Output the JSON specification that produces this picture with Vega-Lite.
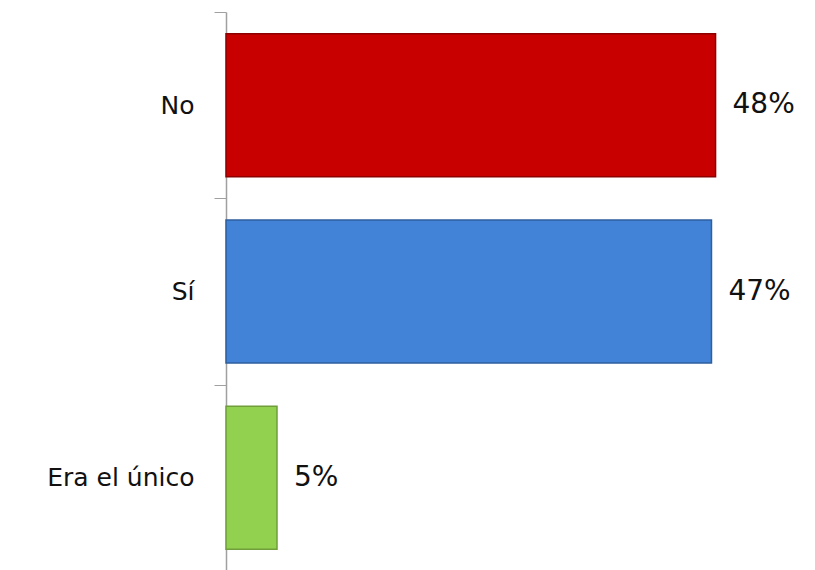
{
  "$schema": "https://vega.github.io/schema/vega-lite/v6.json",
  "width": 589,
  "height": 559,
  "autosize": {"type": "none"},
  "padding": {"left": 226, "top": 12, "right": 0, "bottom": 0},
  "background": "white",
  "config": {"view": {"stroke": null}, "font": "DejaVu Sans"},
  "data": {
    "values": [
      {"cat": "No", "value": 48, "label": "48%"},
      {"cat": "Sí", "value": 47.6, "label": "47%"},
      {"cat": "Era el único", "value": 5, "label": "5%"}
    ]
  },
  "encoding": {
    "y": {
      "field": "cat",
      "type": "nominal",
      "sort": null,
      "scale": {"paddingInner": 0, "paddingOuter": 0},
      "axis": {
        "title": null,
        "tickBand": "extent",
        "tickSize": 12,
        "tickColor": "#A0A0A0",
        "domainColor": "#A0A0A0",
        "tickWidth": 1,
        "domainWidth": 1.5,
        "labelFont": "DejaVu Sans",
        "labelFontSize": 25,
        "labelColor": "#111111",
        "labelPadding": 20
      }
    },
    "x": {
      "field": "value",
      "type": "quantitative",
      "scale": {"domain": [0, 57.75], "nice": false},
      "axis": null
    }
  },
  "layer": [
    {
      "mark": {"type": "bar", "strokeWidth": 1.5, "height": {"band": 0.767}},
      "encoding": {
        "color": {
          "field": "cat",
          "type": "nominal",
          "scale": {"domain": ["No", "Sí", "Era el único"], "range": ["#C80000", "#4283D8", "#92D050"]},
          "legend": null
        },
        "stroke": {
          "field": "cat",
          "type": "nominal",
          "scale": {"domain": ["No", "Sí", "Era el único"], "range": ["#8E0000", "#2E5F9E", "#6F9E3A"]},
          "legend": null
        }
      }
    },
    {
      "mark": {"type": "text", "align": "left", "baseline": "middle", "dx": 17, "font": "DejaVu Sans", "fontSize": 28, "color": "#111111"},
      "encoding": {"text": {"field": "label"}}
    }
  ]
}
